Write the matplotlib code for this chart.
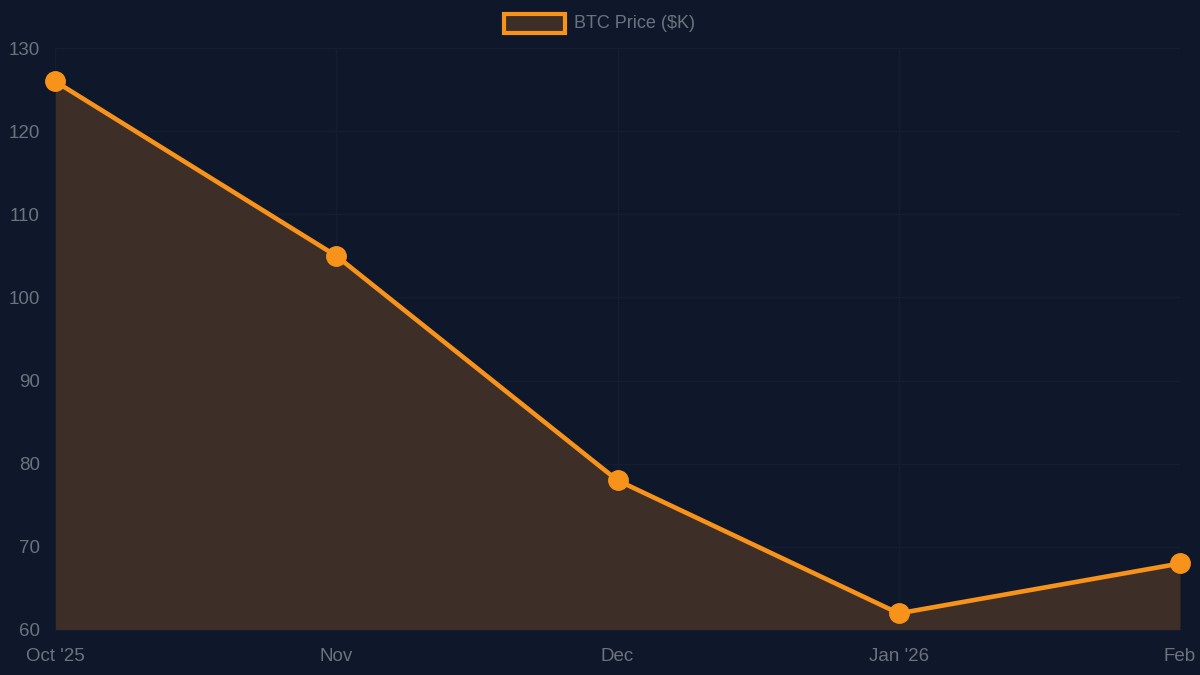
import matplotlib
matplotlib.use("Agg")
import matplotlib.pyplot as plt
from matplotlib.patches import Rectangle

months = ["Oct '25", "Nov", "Dec", "Jan '26", "Feb"]
btc_price = [126, 105, 78, 62, 68]
y_ticks = [60, 70, 80, 90, 100, 110, 120, 130]

bg = "#0f172a"
orange = "#f7931a"
fill_col = "#3d2e28"
text_col = "#6b7280"
grid_col = "#151e31"

plt.rcParams['font.family'] = ['Liberation Sans', 'DejaVu Sans']

fig = plt.figure(figsize=(12, 6.75), dpi=100, facecolor=bg)
ax = fig.add_axes([55/1200, 45/675, 1125/1200, 582/675], facecolor=bg)

x = list(range(len(months)))
ax.fill_between(x, btc_price, 60, color=fill_col, linewidth=0, zorder=1)
ax.plot(x, btc_price, color=orange, linewidth=3.3, marker='o', markersize=14,
        markerfacecolor=orange, markeredgecolor=orange, zorder=3, clip_on=False)

ax.set_xlim(0, len(months) - 1)
ax.set_ylim(60, 130)
ax.set_xticks(x)
ax.set_xticklabels(months)
ax.set_yticks(y_ticks)
ax.tick_params(axis='both', colors=text_col, labelsize=13.5, length=0)
ax.tick_params(axis='x', pad=13)
ax.tick_params(axis='y', pad=11)
ax.grid(True, color=grid_col, linewidth=1, zorder=0)
ax.set_axisbelow(True)
for side in ['top', 'right']:
    ax.spines[side].set_visible(False)
ax.spines['left'].set_color(grid_col)
ax.spines['bottom'].set_color(grid_col)

# legend
fig.patches.append(Rectangle((504/1200, 1 - 33/675), 61/1200, 19/675,
                             transform=fig.transFigure, facecolor=fill_col,
                             edgecolor=orange, linewidth=3))
fig.text(574/1200, 1 - 24/675, "BTC Price ($K)", color=text_col, fontsize=13,
         va='center', ha='left')

fig.savefig("out.png", dpi=100, facecolor=bg)
